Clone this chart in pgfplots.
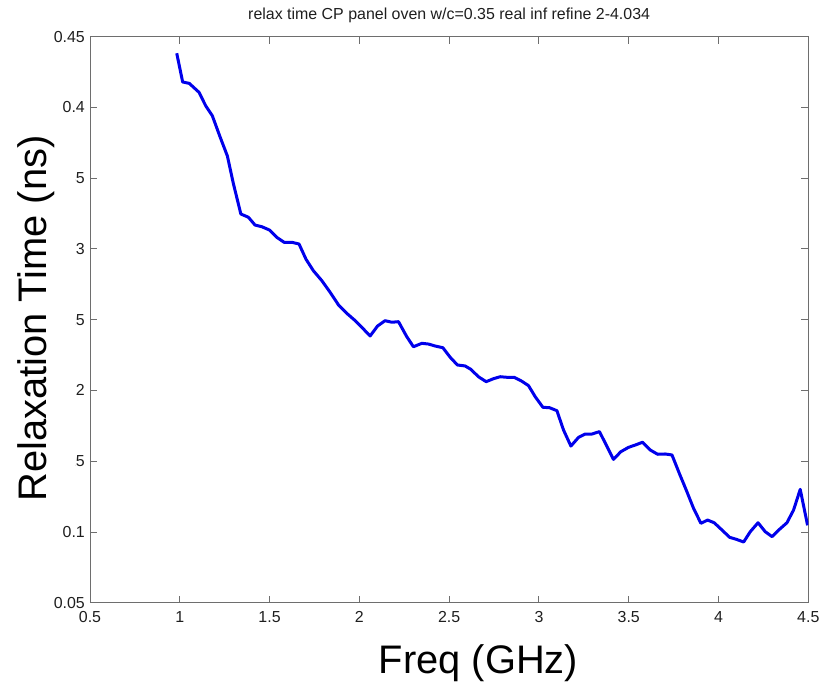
\documentclass[border=0pt]{standalone}
\usepackage{fontspec}
\setmainfont{Liberation Sans}
\usepackage{pgfplots}
\pgfplotsset{compat=1.18}
\definecolor{axgray}{RGB}{110,110,110}
\definecolor{txt}{RGB}{30,30,30}
\definecolor{curve}{RGB}{0,0,235}
\begin{document}
\begin{tikzpicture}
\begin{axis}[
  at={(0,0)}, anchor=south west,
  scale only axis, width=718.3bp, height=566bp,
  xmin=0.5, xmax=4.5, ymin=0.05, ymax=0.45,
  xtick={0.5,1,1.5,2,2.5,3,3.5,4,4.5},
  xticklabels={0.5,1,1.5,2,2.5,3,3.5,4,4.5},
  ytick={0.05,0.1,0.15,0.2,0.25,0.3,0.35,0.4,0.45},
  yticklabels={0.05,0.1,0.15,0.2,0.25,0.3,0.35,0.4,0.45},
  /pgf/number format/assume math mode=true,
  axis line style={axgray, line width=0.9bp},
  tick style={axgray, line width=0.9bp},
  major tick length=7bp,
  tick align=inside,
  xtick pos=both, ytick pos=both,
  tick label style={font=\fontsize{16}{18}\selectfont, text=txt},
  xticklabel style={anchor=base, inner sep=0pt, yshift=-19.5bp},
  yticklabel style={anchor=east, inner sep=0pt, xshift=-5bp},
  title={relax time CP panel oven w/c=0.35 real inf refine 2-4.034},
  title style={font=\fontsize{16}{18}\selectfont, text=txt, at={(axis description cs:0.5,1)}, anchor=base, inner sep=0pt, yshift=11.7bp},
  xlabel={Freq (GHz)},
  xlabel style={font=\fontsize{40}{44}\selectfont, text=black, at={(axis description cs:0.541,0)}, anchor=base, inner sep=0pt, yshift=-70.3bp},
  ylabel={Relaxation Time (ns)},
  ylabel style={font=\fontsize{40}{44}\selectfont, text=black, fill=white, at={(axis description cs:-0.0603,0.502)}, anchor=base, rotate=0, inner xsep=0pt, inner ysep=0pt, text depth=28.6bp},
]
\addplot[curve, line width=3bp, line join=round] coordinates {
(0.983,0.4383) (1.016,0.418) (1.053,0.417) (1.107,0.4107) (1.145,0.401)
(1.181,0.3942) (1.224,0.3793) (1.265,0.3657) (1.298,0.3464) (1.340,0.3247)
(1.382,0.3224) (1.419,0.3169) (1.457,0.3157) (1.499,0.3134) (1.540,0.3082)
(1.581,0.3047) (1.624,0.3047) (1.664,0.3035) (1.703,0.2927) (1.744,0.2846)
(1.791,0.2776) (1.837,0.2694) (1.884,0.2604) (1.930,0.2545) (1.977,0.2493)
(2.019,0.2439) (2.060,0.2385) (2.101,0.2455) (2.143,0.2493) (2.181,0.2482)
(2.218,0.2486) (2.264,0.238) (2.301,0.2309) (2.348,0.2333) (2.385,0.2328)
(2.422,0.2314) (2.465,0.2302) (2.506,0.2234) (2.546,0.2180) (2.589,0.2173)
(2.621,0.2149) (2.663,0.2097) (2.706,0.2062) (2.747,0.2083) (2.784,0.2097)
(2.821,0.2093) (2.862,0.2093) (2.905,0.2065) (2.942,0.2034) (2.979,0.1956)
(3.022,0.1881) (3.059,0.1878) (3.100,0.1857) (3.137,0.1720) (3.178,0.1607)
(3.221,0.1669) (3.258,0.1692) (3.295,0.1692) (3.337,0.1709) (3.375,0.1614)
(3.415,0.1513) (3.456,0.1567) (3.499,0.1598) (3.536,0.1614) (3.577,0.1634)
(3.620,0.1579) (3.661,0.1549) (3.703,0.1551) (3.741,0.1544) (3.783,0.1410)
(3.820,0.1297) (3.861,0.1167) (3.902,0.1061) (3.939,0.1084) (3.976,0.1065)
(4.019,0.1014) (4.062,0.0962) (4.099,0.0948) (4.140,0.0929) (4.177,0.1002)
(4.220,0.1065) (4.260,0.1002) (4.298,0.0967) (4.340,0.1019) (4.381,0.1065)
(4.418,0.1155) (4.455,0.1301) (4.496,0.1047)
};
\end{axis}
\pgfresetboundingbox
\path[use as bounding box] (-90bp,-80.3bp) rectangle (731bp,602.7bp);
\end{tikzpicture}
\end{document}
